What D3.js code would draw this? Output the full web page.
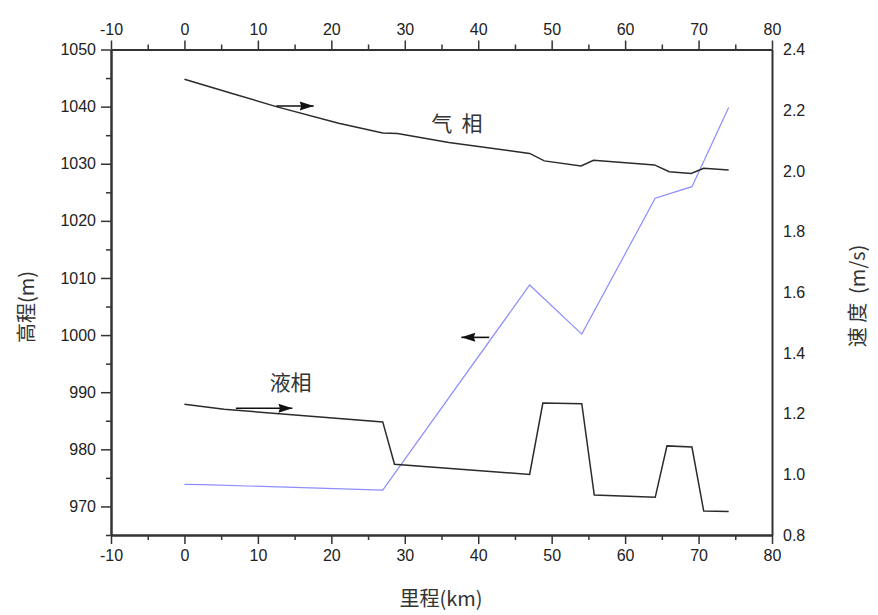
<!DOCTYPE html>
<html>
<head>
<meta charset="utf-8">
<script src="https://cdn.jsdelivr.net/npm/d3@7"></script>
<style>
  body { margin: 0; background: #fff; }
  svg { display: block; }
  .tick text { font-family: "Liberation Sans", Arial, sans-serif; font-size: 16px; fill: #222; }
  .cn { font-family: "Noto Sans CJK SC", sans-serif; fill: #333; }
</style>
</head>
<body>
<svg id="chart" width="878" height="615"></svg>
<script>
// ── data ──
const gasKm   = [0, 6.5, 12.5, 21, 27, 29, 36, 47, 49, 54, 55.7, 64, 66, 69, 70.7, 74.1];
const gasElev = [1044.8, 1042.3, 1040.0, 1037.1, 1035.4, 1035.3, 1033.7, 1031.8, 1030.5, 1029.6, 1030.6, 1029.8, 1028.6, 1028.3, 1029.2, 1028.9];

const liqKm   = [0, 5.4, 27, 28.6, 47, 48.8, 54.1, 55.8, 64.1, 65.7, 69.1, 70.7, 74.1];
const liqElev = [987.9, 987.0, 984.8, 977.4, 975.6, 988.1, 988.0, 972.0, 971.6, 980.6, 980.4, 969.2, 969.1];

const velKm    = [0, 2.5, 27, 47, 54.1, 64.1, 69.1, 74.1];
const velSpeed = [0.967, 0.966, 0.948, 1.624, 1.462, 1.910, 1.948, 2.209];

const xMajor = [-10, 0, 10, 20, 30, 40, 50, 60, 70, 80];
const xMinor = [-5, 5, 15, 25, 35, 45, 55, 65, 75];
const yMajor = [970, 980, 990, 1000, 1010, 1020, 1030, 1040, 1050];
const yMinor = [965, 975, 985, 995, 1005, 1015, 1025, 1035, 1045];
const vTicks = [0.8, 1.0, 1.2, 1.4, 1.6, 1.8, 2.0, 2.2, 2.4];

// ── layout ──
const W = 878, H = 615;
const m = { left: 111, right: 106, top: 49.5, bottom: 80 };
const iw = W - m.left - m.right, ih = H - m.top - m.bottom;

const svg = d3.select("#chart");
const g = svg.append("g").attr("transform", `translate(${m.left},${m.top})`);

const x = d3.scaleLinear().domain([-10, 80]).range([0, iw]);
const y = d3.scaleLinear().domain([965, 1050]).range([ih, 0]);
const yv = d3.scaleLinear().domain([0.8, 2.4]).range([ih, 0]);

const plain = d => String(d);

function styleAxis(sel) {
  sel.select(".domain").attr("stroke", "#333").attr("stroke-width", 2);
  sel.selectAll(".tick line").attr("stroke", "#333").attr("stroke-width", 1.5);
}

// bottom
g.append("g").attr("transform", `translate(0,${ih})`)
  .call(d3.axisBottom(x).tickValues(xMajor).tickSize(9).tickSizeOuter(0).tickPadding(6).tickFormat(plain))
  .call(styleAxis);
g.append("g").attr("transform", `translate(0,${ih})`)
  .call(d3.axisBottom(x).tickValues(xMinor).tickSize(5).tickFormat("").tickSizeOuter(0))
  .call(styleAxis);
// top
g.append("g")
  .call(d3.axisTop(x).tickValues(xMajor).tickSize(9).tickSizeOuter(0).tickPadding(6).tickFormat(plain))
  .call(styleAxis);
g.append("g")
  .call(d3.axisTop(x).tickValues(xMinor).tickSize(5).tickFormat("").tickSizeOuter(0))
  .call(styleAxis);
// left
g.append("g")
  .call(d3.axisLeft(y).tickValues(yMajor).tickSize(10).tickSizeOuter(0).tickPadding(5).tickFormat(plain))
  .call(styleAxis);
g.append("g")
  .call(d3.axisLeft(y).tickValues(yMinor).tickSize(5).tickFormat("").tickSizeOuter(0))
  .call(styleAxis);
// right (no tick marks)
g.append("g").attr("transform", `translate(${iw},0)`)
  .call(d3.axisRight(yv).tickValues(vTicks).tickSize(0).tickSizeOuter(0).tickPadding(11).tickFormat(d3.format(".1f")))
  .call(styleAxis);

// ── lines ──
const lineElev = d3.line().x(d => x(d[0])).y(d => y(d[1]));
const lineVel = d3.line().x(d => x(d[0])).y(d => yv(d[1]));

g.append("path").datum(d3.zip(velKm, velSpeed))
  .attr("d", lineVel).attr("fill", "none").attr("stroke", "#8c8cff").attr("stroke-width", 1.2);
g.append("path").datum(d3.zip(gasKm, gasElev))
  .attr("d", lineElev).attr("fill", "none").attr("stroke", "#2b2b2b").attr("stroke-width", 1.5);
g.append("path").datum(d3.zip(liqKm, liqElev))
  .attr("d", lineElev).attr("fill", "none").attr("stroke", "#2b2b2b").attr("stroke-width", 1.5);

// ── arrows: [from km, to km, elevation] ──
const arrows = [
  [12.5, 17.6, 1040.1],
  [7.0, 14.7, 987.2],
  [41.5, 37.7, 999.6]
];
const arr = g.selectAll(".arr").data(arrows).enter().append("g");
arr.append("line")
  .attr("x1", d => x(d[0])).attr("x2", d => x(d[1]))
  .attr("y1", d => y(d[2])).attr("y2", d => y(d[2]))
  .attr("stroke", "#111").attr("stroke-width", 1.6);
arr.append("path")
  .attr("fill", "#111")
  .attr("d", d => {
    const tx = x(d[1]), ty = y(d[2]);
    const dir = d[1] > d[0] ? 1 : -1;
    const bx = tx - dir * 14;
    return `M${tx},${ty} L${bx},${ty - 4.5} L${bx + dir * 1.5},${ty} L${bx},${ty + 4.5} Z`;
  });

// ── annotations ──
g.append("text").attr("class", "cn")
  .attr("x", x(33.6)).attr("y", y(1035.8))
  .attr("font-size", 21).attr("xml:space", "preserve")
  .text("气  相");
g.append("text").attr("class", "cn")
  .attr("x", x(11.6)).attr("y", y(990.3))
  .attr("font-size", 21)
  .text("液相");

// axis titles
svg.append("text").attr("class", "cn")
  .attr("x", 441).attr("y", 606).attr("text-anchor", "middle")
  .attr("font-size", 20).text("里程(km)");
svg.append("text").attr("class", "cn")
  .attr("transform", "translate(34,307) rotate(-90)").attr("text-anchor", "middle")
  .attr("font-size", 20).text("高程(m)");
svg.append("text").attr("class", "cn")
  .attr("transform", "translate(865,296) rotate(-90)").attr("text-anchor", "middle")
  .attr("font-size", 20).attr("xml:space", "preserve").text("速 度  (m/s)");
</script>
</body>
</html>
